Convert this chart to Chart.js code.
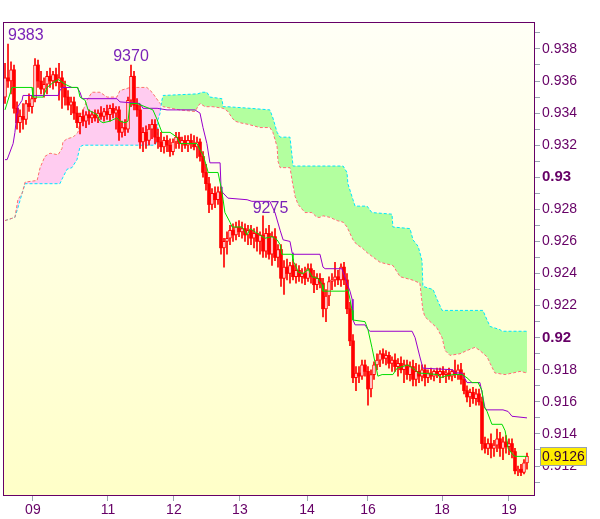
<!DOCTYPE html>
<html><head><meta charset="utf-8">
<script src="https://cdn.jsdelivr.net/npm/chart.js@4.4.0/dist/chart.umd.min.js"></script>
<style>html,body{margin:0;padding:0;background:#fff;}canvas{display:block;}</style>
</head><body>
<canvas id="c" width="600" height="519" style="width:600px;height:519px"></canvas>
<script>
// prices in pips (x 0.0001)
const open=[9350,9362,9360,9367,9343,9334,9338,9336,9346,9344,
9349,9370,9360,9355,9358,9363,9360,9364,9359,9362,
9356,9350,9345,9347,9340,9334,9338,9335,9339,9337,
9339,9337,9340,9338,9341,9339,9343,9340,9342,9328,
9331,9330,9348,9363,9345,9342,9322,9328,9323,9330,
9333,9325,9322,9319,9323,9320,9316,9322,9325,9321,
9323,9320,9323,9321,9319,9322,9313,9303,9296,9283,
9290,9286,9291,9256,9260,9262,9267,9264,9269,9266,
9268,9264,9267,9262,9265,9260,9264,9254,9265,9252,
9263,9250,9255,9237,9244,9240,9245,9238,9242,9238,
9240,9237,9243,9238,9233,9237,9234,9218,9226,9235,
9236,9238,9236,9244,9236,9218,9198,9175,9178,9176,
9183,9179,9168,9177,9183,9186,9190,9187,9189,9184,
9186,9182,9184,9180,9183,9177,9182,9174,9179,9176,
9180,9175,9178,9176,9179,9177,9179,9177,9178,9176,
9179,9177,9180,9174,9167,9163,9166,9162,9165,9160,
9134,9131,9134,9131,9133,9137,9131,9135,9132,9134,
9129,9117,9118,9116,9122];
const high=[9371,9383,9372,9370,9347,9342,9346,9348,9352,9351,
9374,9373,9366,9362,9366,9368,9366,9368,9371,9366,
9360,9354,9350,9350,9344,9340,9342,9341,9342,9341,
9342,9342,9344,9343,9345,9345,9346,9344,9344,9335,
9336,9350,9370,9366,9349,9345,9331,9332,9333,9336,
9336,9330,9328,9325,9326,9324,9324,9328,9328,9325,
9326,9326,9327,9326,9325,9324,9316,9308,9300,9293,
9294,9294,9294,9262,9266,9270,9271,9272,9273,9272,
9271,9270,9270,9268,9269,9266,9276,9268,9270,9266,
9268,9258,9258,9248,9249,9247,9249,9246,9245,9243,
9244,9246,9246,9242,9240,9240,9237,9230,9238,9240,
9247,9242,9246,9247,9240,9222,9202,9182,9182,9186,
9186,9182,9180,9185,9190,9192,9193,9192,9191,9188,
9190,9187,9188,9186,9186,9185,9186,9184,9183,9183,
9183,9180,9181,9180,9181,9181,9182,9180,9181,9180,
9186,9183,9184,9178,9170,9168,9169,9168,9168,9163,
9138,9137,9140,9136,9143,9141,9138,9139,9137,9137,
9131,9120,9121,9124,9128];
const low=[9346,9356,9352,9340,9330,9328,9330,9333,9341,9340,
9347,9356,9352,9350,9352,9356,9355,9357,9348,9343,
9345,9342,9339,9336,9331,9327,9332,9331,9333,9334,
9335,9334,9336,9335,9336,9335,9337,9330,9323,9325,
9326,9328,9344,9342,9338,9318,9316,9318,9320,9324,
9321,9318,9316,9315,9316,9313,9314,9318,9318,9316,
9318,9316,9318,9317,9312,9310,9300,9292,9278,9280,
9281,9283,9252,9244,9252,9258,9260,9261,9263,9262,
9260,9258,9258,9256,9254,9252,9250,9250,9249,9245,
9248,9244,9232,9227,9236,9234,9236,9234,9235,9234,
9233,9235,9234,9228,9230,9231,9213,9210,9220,9230,
9232,9233,9232,9233,9215,9195,9172,9167,9172,9174,
9176,9158,9163,9174,9180,9182,9184,9183,9181,9179,
9179,9176,9178,9172,9174,9173,9170,9170,9172,9173,
9170,9172,9174,9173,9175,9172,9175,9172,9174,9173,
9175,9174,9171,9165,9160,9157,9159,9158,9158,9130,
9128,9127,9125,9126,9129,9126,9124,9128,9127,9125,
9115,9114,9114,9115,9118];
const close=[9362,9360,9367,9343,9334,9338,9336,9346,9344,9349,
9370,9360,9355,9358,9363,9360,9364,9359,9362,9356,
9350,9345,9347,9340,9334,9338,9335,9339,9337,9339,
9337,9340,9338,9341,9339,9343,9340,9342,9328,9331,
9330,9348,9363,9345,9342,9322,9328,9323,9330,9333,
9325,9322,9319,9323,9320,9316,9322,9325,9321,9323,
9320,9323,9321,9319,9322,9313,9303,9296,9283,9290,
9286,9291,9256,9260,9262,9267,9264,9269,9266,9268,
9264,9267,9262,9265,9260,9264,9254,9265,9252,9263,
9250,9255,9237,9244,9240,9245,9238,9242,9238,9240,
9237,9243,9238,9233,9237,9234,9218,9226,9235,9236,
9238,9236,9244,9236,9218,9198,9175,9178,9176,9183,
9179,9168,9177,9183,9186,9190,9187,9189,9184,9186,
9182,9184,9180,9183,9177,9182,9174,9179,9176,9180,
9175,9178,9176,9179,9177,9179,9177,9178,9176,9179,
9177,9180,9174,9167,9163,9166,9162,9165,9160,9134,
9131,9134,9131,9133,9137,9131,9135,9132,9134,9129,
9117,9118,9116,9122,9126];

// line vertices: [bar index, pips]
const tenkan=[[0,9342],[2.3,9356],[9,9356],[9.3,9350],[12.7,9350],[14,9356],[16,9359],[17.7,9361],[20,9358],[22.3,9356],[24.3,9356],[25,9350],[26.7,9348],[27.7,9342],[30.7,9339],[31.7,9335],[32.7,9334],[35,9335],[37.3,9337],[38.3,9335],[40,9334],[41,9335],[41.7,9346],[44,9346],[49.3,9342],[50.7,9336],[52.3,9328],[55,9328],[57.3,9325],[58.3,9321],[64,9321],[65,9317],[66,9314],[67.3,9306],[67.7,9303],[71,9303],[72,9294],[72.7,9286],[73.3,9278],[75,9272],[75.7,9269],[79,9269],[80.7,9264],[81.7,9268],[83.3,9266],[86.7,9262],[89,9263],[90.7,9261],[91.7,9258],[92.3,9252],[95.7,9252],[96,9248],[97.3,9243],[97.7,9241],[99.3,9240],[100.7,9242],[101,9243],[102.3,9238],[104.3,9237],[105.7,9233],[106,9229],[109,9229],[113.3,9229],[114.3,9230],[115,9224],[115.7,9217],[116,9211],[120,9210],[121,9205],[122.3,9194],[123.3,9185],[124.3,9176],[125.7,9177],[129.3,9177],[130.7,9181],[134.3,9183],[136.7,9180],[137.7,9178],[144.3,9177],[145,9175],[146.7,9176],[149.3,9177],[152.3,9177],[154,9175],[155.7,9172],[157.7,9172],[159,9167],[159.7,9157],[160.7,9154],[162.3,9146],[165.7,9146],[166.7,9142],[167.3,9136],[167.7,9131],[169.3,9127],[170,9126],[174,9126]];
const kijun=[[0,9311],[0.7,9311],[2.7,9321],[3.3,9328],[4,9340],[4.3,9344],[5.7,9348],[6,9351],[17.7,9351],[18.3,9354],[19,9356],[24,9356],[25,9353],[25.7,9349],[37.3,9349],[38.3,9347],[45,9346],[46,9343],[50.7,9343],[54,9342],[63.3,9342],[65,9340],[66,9331],[67.3,9321],[68.3,9309],[71.7,9309],[72,9294],[72.3,9291],[74.3,9287],[80.7,9286],[82.3,9285],[88.3,9285],[90,9278],[91.7,9267],[92.7,9261],[95,9260],[95.7,9253],[96,9252],[105,9252],[106,9244],[106.7,9243],[112.3,9243],[112.7,9241],[114,9234],[115,9229],[115.7,9224],[116,9211],[116.7,9208],[120,9208],[121,9205],[121.7,9204],[135.7,9204],[136.7,9200],[138.3,9188],[139.3,9181],[149.3,9180],[150,9178],[152.3,9178],[154,9172],[158.3,9172],[159,9166],[160,9156],[160.7,9155],[166,9155],[167.7,9154],[169,9151],[174,9150]];
const spanA=[[0,9273],[3.3,9275],[4.3,9281],[5.7,9290],[6.7,9296],[18.3,9296],[19.3,9300],[20.7,9305],[22.3,9306],[24,9311],[25,9319],[26,9320],[50,9320],[50.7,9323],[51,9336],[51.7,9340],[52.3,9348],[52.7,9351],[64.3,9352],[65.7,9353],[67.3,9353],[68.3,9350],[72.3,9349],[72.7,9344],[74,9344],[81.7,9343],[88.3,9342],[89.3,9337],[90.7,9328],[91.7,9325],[95,9325],[95.7,9313],[96,9307],[112.7,9307],[114,9303],[114.3,9296],[116,9286],[116.7,9282],[120.7,9282],[122.3,9278],[129,9277],[129.3,9269],[135,9268],[136,9261],[137.7,9257],[138.3,9253],[139,9248],[139.3,9232],[142.7,9230],[144,9224],[145.7,9217],[159.3,9217],[160.7,9211],[161.7,9207],[165,9205],[165.7,9204],[174,9204]];
const spanB=[[0,9273],[3.3,9275],[4.3,9286],[5.7,9290],[6.7,9297],[10.7,9298],[11.7,9306],[13.3,9313],[15,9315],[17.7,9314],[19,9318],[19.3,9322],[20.7,9324],[22.7,9325],[24.3,9328],[25.7,9340],[27.3,9348],[29,9353],[31.7,9353],[34,9350],[37.3,9350],[38.3,9354],[41.7,9356],[45,9356],[47.3,9356],[49,9353],[51.7,9346],[52.7,9344],[58.3,9342],[63.3,9341],[64.3,9344],[65,9346],[66.7,9344],[69.3,9344],[72.7,9343],[74.3,9341],[75.7,9337],[76.7,9335],[78.3,9334],[81,9333],[85,9331],[88.3,9331],[89.3,9328],[90.7,9319],[91,9310],[91.7,9306],[95,9306],[95.7,9298],[96.7,9288],[97.7,9283],[100,9278],[102.3,9278],[104,9275],[105,9275],[106,9276],[108.3,9275],[110.7,9273],[112.7,9272],[114,9269],[115,9265],[116,9261],[117.3,9258],[119,9256],[120.7,9253],[125,9247],[129.3,9245],[131.7,9238],[135.7,9236],[138.3,9234],[139.3,9217],[140,9213],[142.3,9209],[144,9206],[145.7,9200],[146.7,9192],[148.3,9189],[151.7,9190],[154,9192],[156.7,9194],[158.3,9192],[160.7,9188],[161.7,9184],[163.3,9178],[166.7,9177],[169.3,9178],[171.7,9179],[174,9178]];

const dayTickPos=[9.3,34.3,56.3,78.3,100.7,121,145.7,168];
const dayTickLabels=['09','11','12','13','14','16','18','19'];
const yTicks=[0.911,0.912,0.913,0.914,0.915,0.916,0.917,0.918,0.919,0.920,0.921,0.922,0.923,0.924,0.925,0.926,0.927,0.928,0.929,0.930,0.931,0.932,0.933,0.934,0.935,0.936,0.937,0.938,0.939];
const peakLabels=[{i:1,p:9383,text:'9383',align:'left'},{i:42,p:9370,text:'9370',align:'center'},{i:88.5,p:9275,text:'9275',align:'center'}];

const FONT="'Liberation Sans', Arial, sans-serif";
const px=v=>v/10000;
const pts=a=>a.map(([i,p])=>({x:i,y:px(p)}));
const idx=open.map((_,i)=>i);
const wicks=idx.map(i=>({x:i,y:[px(low[i]),px(high[i])]}));
const upBodies=idx.filter(i=>close[i]>=open[i]).map(i=>({x:i,y:[px(open[i]),px(close[i])]}));
const downBodies=idx.filter(i=>close[i]<open[i]).map(i=>({x:i,y:[px(close[i]),px(open[i])]}));

const decor={
  id:'decor',
  beforeDraw(chart){
    const {ctx,chartArea:a}=chart;
    ctx.save();
    ctx.fillStyle='#ffffff';
    ctx.fillRect(0,0,chart.width,chart.height);
    const g=ctx.createLinearGradient(0,a.top,0,a.bottom);
    g.addColorStop(0,'#fffff6');
    g.addColorStop(1,'#ffffc8');
    ctx.fillStyle=g;
    ctx.fillRect(a.left,a.top,a.right-a.left,a.bottom-a.top);
    ctx.restore();
  },
  afterDraw(chart){
    const {ctx,chartArea:a,scales}=chart;
    ctx.save();
    ctx.strokeStyle='#660066';
    ctx.lineWidth=1;
    ctx.strokeRect(Math.round(a.left)+0.5,Math.round(a.top)+0.5,Math.round(a.right-a.left)-1,Math.round(a.bottom-a.top)-1);
    // peak labels
    ctx.font='16px '+FONT;
    ctx.fillStyle='#7a22b8';
    ctx.textBaseline='alphabetic';
    peakLabels.forEach(l=>{
      ctx.textAlign=l.align;
      ctx.fillText(l.text,scales.x.getPixelForValue(l.i),scales.y.getPixelForValue(px(l.p))-4);
    });
    // last price box
    const last=close[close.length-1];
    const y=Math.round(scales.y.getPixelForValue(px(last)));
    const bx=Math.round(a.right)+5;
    ctx.fillStyle='#ffee00';
    ctx.fillRect(bx,y-9,47,19);
    ctx.strokeStyle='#99a0b0';
    ctx.strokeRect(bx+0.5,y-8.5,46,18);
    ctx.fillStyle='#330033';
    ctx.font='14px '+FONT;
    ctx.textAlign='left';
    ctx.textBaseline='middle';
    ctx.fillText((last/10000).toFixed(4),bx+2,y+1);
    ctx.restore();
  }
};

new Chart(document.getElementById('c'),{
  type:'bar',
  data:{datasets:[
    {type:'line',label:'spanA',data:pts(spanA),borderColor:'#00e5ff',borderWidth:1,borderDash:[3,2],pointRadius:0,
     fill:{target:1,above:'#b3ff9f',below:'#ffccf0'},order:10},
    {type:'line',label:'spanB',data:pts(spanB),borderColor:'#ff6f6f',borderWidth:1,borderDash:[3,2],pointRadius:0,fill:false,order:9},
    {label:'wicks',data:wicks,backgroundColor:'#ff0000',barThickness:1,grouped:false,order:6},
    {label:'up',data:upBodies,backgroundColor:'#ffe6e6',borderColor:'#ff0000',borderWidth:1,borderSkipped:false,barThickness:3,minBarLength:1,grouped:false,order:5},
    {label:'down',data:downBodies,backgroundColor:'#ff0000',borderWidth:0,barThickness:3,minBarLength:1,grouped:false,order:4},
    {type:'line',label:'kijun',data:pts(kijun),borderColor:'#9900cc',borderWidth:1,pointRadius:0,fill:false,order:2},
    {type:'line',label:'tenkan',data:pts(tenkan),borderColor:'#00dd00',borderWidth:1,pointRadius:0,fill:false,order:1}
  ]},
  options:{
    responsive:false,animation:false,
    layout:{padding:{top:22,left:3,right:0,bottom:0}},
    plugins:{legend:{display:false},tooltip:{enabled:false},filler:{drawTime:'beforeDatasetsDraw'}},
    scales:{
      x:{type:'linear',min:-0.67,max:176.67,offset:false,
        afterBuildTicks:s=>{s.ticks=dayTickPos.map(v=>({value:v}));},
        afterFit:s=>{s.height=23;},
        ticks:{autoSkip:false,maxRotation:0,color:'#660066',font:{family:FONT,size:14},padding:1,
          callback:(v,i)=>dayTickLabels[i]},
        grid:{drawOnChartArea:false,drawTicks:true,tickLength:5,color:'#9aa4b0',offset:false},
        border:{display:false}},
      y:{type:'linear',position:'right',min:0.91013,max:0.93968,
        afterBuildTicks:s=>{s.ticks=yTicks.map(v=>({value:v}));},
        afterFit:s=>{s.width=65;},
        ticks:{autoSkip:false,color:'#660066',padding:2,
          font:c=>{const b=c.tick&&Math.round(c.tick.value*1000)%10===0;return {family:FONT,size:b?15:14,weight:b?'bold':'normal'};},
          callback:v=>Math.round(v*1000)%2===0?String(+v.toFixed(3)):''},
        grid:{drawOnChartArea:false,drawTicks:true,tickLength:5,color:'#9aa4b0'},
        border:{display:false}}
    }
  },
  plugins:[decor]
});
</script>
</body></html>
